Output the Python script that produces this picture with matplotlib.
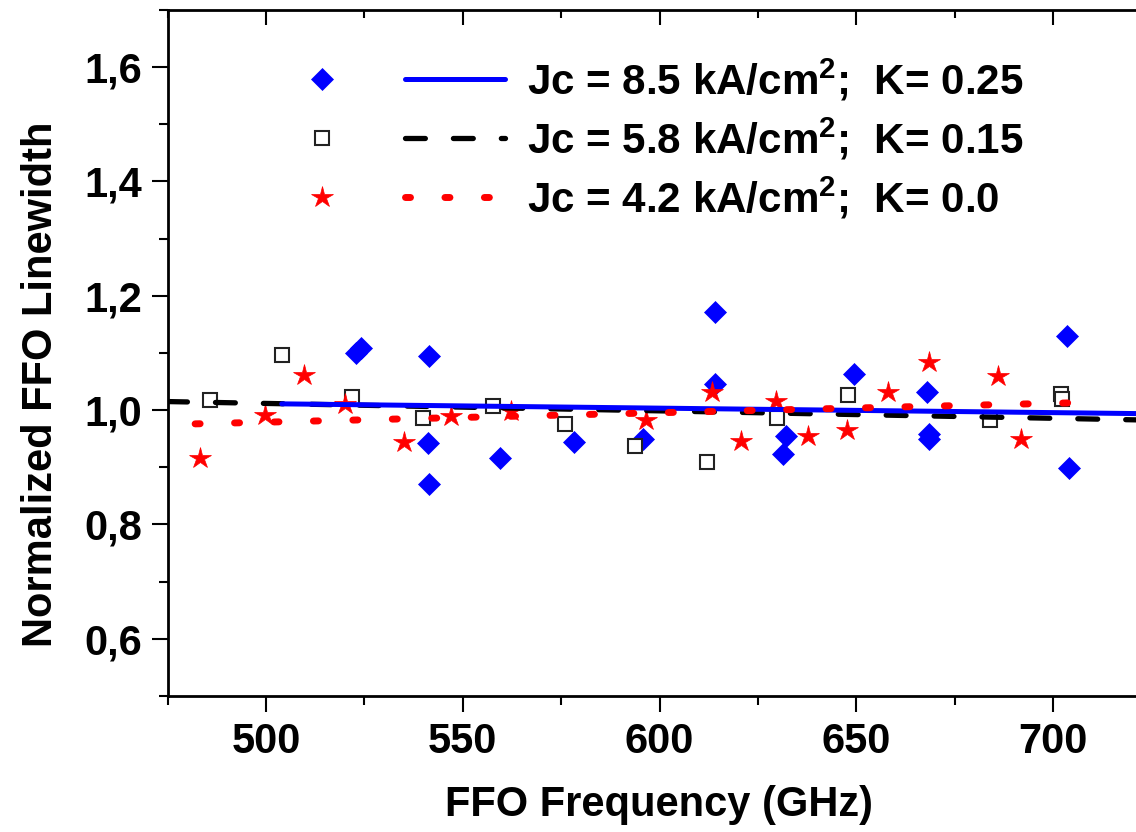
import matplotlib
matplotlib.use("Agg")
import matplotlib.pyplot as plt
from matplotlib.ticker import MultipleLocator, FixedLocator, FuncFormatter
from matplotlib.legend_handler import HandlerTuple

plt.rcParams['font.family'] = ['Liberation Sans', 'DejaVu Sans']
plt.rcParams['font.weight'] = 'bold'
plt.rcParams['mathtext.fontset'] = 'custom'
plt.rcParams['mathtext.rm'] = 'Liberation Sans:bold'
plt.rcParams['mathtext.bf'] = 'Liberation Sans:bold'
plt.rcParams['mathtext.it'] = 'Liberation Sans:bold'
plt.rcParams['mathtext.default'] = 'rm'
plt.rcParams['lines.scale_dashes'] = False

# ---- data ----
dia_x = [522.9, 524.2, 541.5, 541.1, 541.5, 559.5, 578.3, 595.7, 614.0, 614.0,
         632.0, 631.4, 649.4, 667.8, 668.3, 668.3, 703.5, 704.1]
dia_y = [1.100, 1.109, 1.095, 0.943, 0.871, 0.916, 0.945, 0.950, 1.172, 1.045,
         0.954, 0.924, 1.064, 1.032, 0.958, 0.950, 1.130, 0.898]

sq_x = [485.9, 504.0, 521.9, 539.8, 557.7, 576.0, 593.8, 612.0, 629.9, 647.8,
        683.8, 702.0, 702.2]
sq_y = [1.017, 1.097, 1.023, 0.987, 1.007, 0.976, 0.937, 0.910, 0.987, 1.026,
        0.983, 1.028, 1.020]

star_x = [483.3, 499.8, 509.6, 520.0, 535.0, 546.9, 562.3, 596.5, 613.2, 620.6,
          629.5, 637.8, 647.7, 658.1, 668.3, 686.0, 691.7]
star_y = [0.916, 0.992, 1.062, 1.010, 0.945, 0.989, 0.998, 0.983, 1.032, 0.946,
          1.016, 0.954, 0.966, 1.031, 1.085, 1.060, 0.950]

fit_blue_x = [504, 721]
fit_blue_y = [1.011, 0.994]
fit_black_x = [475, 721]
fit_black_y = [1.015, 0.983]
fit_red_x = [482, 706]
fit_red_y = [0.976, 1.013]

labels = [r'Jc = 8.5 kA/cm$^2$;  K= 0.25',
          r'Jc = 5.8 kA/cm$^2$;  K= 0.15',
          r'Jc = 4.2 kA/cm$^2$;  K= 0.0']

x_major = [500, 550, 600, 650, 700]
y_major = [0.6, 0.8, 1.0, 1.2, 1.4, 1.6]

# ---- figure ----
fig = plt.figure(figsize=(11.36, 8.32), dpi=100)
ax = fig.add_axes([0.1475, 0.1635, 0.8525, 0.8245])

m_d, = ax.plot(dia_x, dia_y, linestyle='none', marker='D', markersize=11.5,
               color='#0000ff', markeredgewidth=0.5, zorder=3)
m_s, = ax.plot(sq_x, sq_y, linestyle='none', marker='s', markersize=10.5,
               markerfacecolor='white', markeredgecolor='#222222',
               markeredgewidth=1.5, zorder=4)
m_r, = ax.plot(star_x, star_y, linestyle='none', marker='*', markersize=16,
               color='#ff0000', markeredgewidth=0.5, zorder=5)

l_k, = ax.plot(fit_black_x, fit_black_y, color='black', linewidth=3.8,
               dashes=(14.3, 20.2), dash_capstyle='round', zorder=6)
l_b, = ax.plot(fit_blue_x, fit_blue_y, color='#0000ff', linewidth=3.6,
               solid_capstyle='round', zorder=7)
l_r, = ax.plot(fit_red_x, fit_red_y, color='#ff0000', linewidth=5.0,
               dashes=(3.6, 24.8), dash_capstyle='round', zorder=8)

ax.set_xlim(475, 721)
ax.set_ylim(0.5, 1.7)

ax.xaxis.set_major_locator(FixedLocator(x_major))
ax.xaxis.set_minor_locator(MultipleLocator(25))
ax.yaxis.set_major_locator(FixedLocator(y_major))
ax.yaxis.set_minor_locator(MultipleLocator(0.1))
ax.yaxis.set_major_formatter(FuncFormatter(lambda v, p: f'{v:.1f}'.replace('.', ',')))

ax.tick_params(axis='both', which='major', direction='out', length=11.5,
               width=1.5, labelsize=30, pad=7)
ax.tick_params(axis='both', which='minor', direction='out', length=6.5, width=1.5)
ax.tick_params(top=False, right=False, which='both')

for s in ['left', 'bottom']:
    ax.spines[s].set_linewidth(2)
ax.spines['right'].set_visible(False)
ax.spines['top'].set_visible(False)

sec = ax.secondary_xaxis('top')
sec.xaxis.set_major_locator(FixedLocator(x_major))
sec.xaxis.set_minor_locator(MultipleLocator(25))
sec.tick_params(which='major', direction='in', length=11, width=1.5, labeltop=False)
sec.tick_params(which='minor', direction='in', length=6, width=1.5)
sec.spines['top'].set_linewidth(2)

ax.set_xlabel('FFO Frequency (GHz)', fontsize=30, fontweight='bold')
ax.set_ylabel('Normalized FFO Linewidth', fontsize=30, fontweight='bold')
ax.xaxis.set_label_coords(0.507, -0.13)
ax.yaxis.set_label_coords(-0.110, 0.455)

leg = ax.legend([(m_d, l_b), (m_s, l_k), (m_r, l_r)], labels,
                handler_map={tuple: HandlerTuple(ndivide=2, pad=0.79)},
                loc='upper left', bbox_to_anchor=(0.1078, 0.932),
                frameon=False, fontsize=30.3, numpoints=1,
                handlelength=5.53, handletextpad=0.53, labelspacing=0.3,
                borderpad=0, borderaxespad=0)

fig.savefig('out.png', dpi=100)
